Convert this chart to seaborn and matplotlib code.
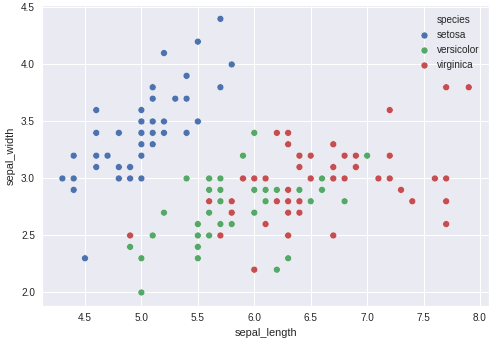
import matplotlib
matplotlib.use("Agg")
import matplotlib.pyplot as plt
from matplotlib.lines import Line2D
import seaborn as sns
import pandas as pd

# Iris measurements: sepal length / width per species
setosa_length = [5.1, 4.9, 4.7, 4.6, 5.0, 5.4, 4.6, 5.0, 4.4, 4.9, 5.4, 4.8, 4.8, 4.3, 5.8, 5.7, 5.4, 5.1, 5.7, 5.1,
                 5.4, 5.1, 4.6, 5.1, 4.8, 5.0, 5.0, 5.2, 5.2, 4.7, 4.8, 5.4, 5.2, 5.5, 4.9, 5.0, 5.5, 4.9, 4.4, 5.1,
                 5.0, 4.5, 4.4, 5.0, 5.1, 4.8, 5.1, 4.6, 5.3, 5.0]
setosa_width = [3.5, 3.0, 3.2, 3.1, 3.6, 3.9, 3.4, 3.4, 2.9, 3.1, 3.7, 3.4, 3.0, 3.0, 4.0, 4.4, 3.9, 3.5, 3.8, 3.8,
                3.4, 3.7, 3.6, 3.3, 3.4, 3.0, 3.4, 3.5, 3.4, 3.2, 3.1, 3.4, 4.1, 4.2, 3.1, 3.2, 3.5, 3.1, 3.0, 3.4,
                3.5, 2.3, 3.2, 3.5, 3.8, 3.0, 3.8, 3.2, 3.7, 3.3]
versicolor_length = [7.0, 6.4, 6.9, 5.5, 6.5, 5.7, 6.3, 4.9, 6.6, 5.2, 5.0, 5.9, 6.0, 6.1, 5.6, 6.7, 5.6, 5.8, 6.2, 5.6,
                     5.9, 6.1, 6.3, 6.1, 6.4, 6.6, 6.8, 6.7, 6.0, 5.7, 5.5, 5.5, 5.8, 6.0, 5.4, 6.0, 6.7, 6.3, 5.6, 5.5,
                     5.5, 6.1, 5.8, 5.0, 5.6, 5.7, 5.7, 6.2, 5.1, 5.7]
versicolor_width = [3.2, 3.2, 3.1, 2.3, 2.8, 2.8, 3.3, 2.4, 2.9, 2.7, 2.0, 3.0, 2.2, 2.9, 2.9, 3.1, 3.0, 2.7, 2.2, 2.5,
                    3.2, 2.8, 2.5, 2.8, 2.9, 3.0, 2.8, 3.0, 2.9, 2.6, 2.4, 2.4, 2.7, 2.7, 3.0, 3.4, 3.1, 2.3, 3.0, 2.5,
                    2.6, 3.0, 2.6, 2.3, 2.7, 3.0, 2.9, 2.9, 2.5, 2.8]
virginica_length = [6.3, 5.8, 7.1, 6.3, 6.5, 7.6, 4.9, 7.3, 6.7, 7.2, 6.5, 6.4, 6.8, 5.7, 5.8, 6.4, 6.5, 7.7, 7.7, 6.0,
                    6.9, 5.6, 7.7, 6.3, 6.7, 7.2, 6.2, 6.1, 6.4, 7.2, 7.4, 7.9, 6.4, 6.3, 6.1, 7.7, 6.3, 6.4, 6.0, 6.9,
                    6.7, 6.9, 5.8, 6.8, 6.7, 6.7, 6.3, 6.5, 6.2, 5.9]
virginica_width = [3.3, 2.7, 3.0, 2.9, 3.0, 3.0, 2.5, 2.9, 2.5, 3.6, 3.2, 2.7, 3.0, 2.5, 2.8, 3.2, 3.0, 3.8, 2.6, 2.2,
                   3.2, 2.8, 2.8, 2.7, 3.3, 3.2, 2.8, 3.0, 2.8, 3.0, 2.8, 3.8, 2.8, 2.8, 2.6, 3.0, 3.4, 3.1, 3.0, 3.1,
                   3.1, 3.1, 2.7, 3.2, 3.3, 3.0, 2.5, 3.0, 3.4, 3.0]

species_names = ["setosa", "versicolor", "virginica"]
species_colors = ["#4C72B0", "#55A868", "#C44E52"]

df = pd.DataFrame({
    "sepal_length": setosa_length + versicolor_length + virginica_length,
    "sepal_width": setosa_width + versicolor_width + virginica_width,
    "species": ["setosa"] * len(setosa_length) + ["versicolor"] * len(versicolor_length)
               + ["virginica"] * len(virginica_length),
})

sns.set_theme(style="darkgrid")
plt.rcParams["font.family"] = ["Liberation Sans", "DejaVu Sans"]
plt.rcParams["axes.labelcolor"] = "#262626"
plt.rcParams["xtick.color"] = "#262626"
plt.rcParams["ytick.color"] = "#262626"

fig = plt.figure(figsize=(495 / 72, 344 / 72), dpi=72)
ax = fig.add_axes([0.085, 0.110, 0.903, 0.875])

sns.scatterplot(data=df, x="sepal_length", y="sepal_width", hue="species",
                hue_order=species_names, palette=species_colors,
                s=48, edgecolor="white", linewidth=0.5, ax=ax, legend=False)

ax.set_xticks([4.5, 5.0, 5.5, 6.0, 6.5, 7.0, 7.5, 8.0])
ax.set_yticks([2.0, 2.5, 3.0, 3.5, 4.0, 4.5])
ax.tick_params(labelsize=10, length=0, pad=7)
ax.set_xlabel("sepal_length", fontsize=11, labelpad=5)
ax.set_ylabel("sepal_width", fontsize=11, labelpad=5)

# Legend with the hue variable name as a first, marker-less row
handles = [Line2D([], [], linestyle="", marker="")]
handles += [Line2D([], [], linestyle="", marker="o", markersize=7, markerfacecolor=c,
                   markeredgecolor="white", markeredgewidth=0.5) for c in species_colors]
labels = ["species"] + species_names
ax.legend(handles, labels, loc="upper right", frameon=False, fontsize=10,
          handletextpad=0.3, borderaxespad=0.6)

fig.savefig("out.png", dpi=72)
